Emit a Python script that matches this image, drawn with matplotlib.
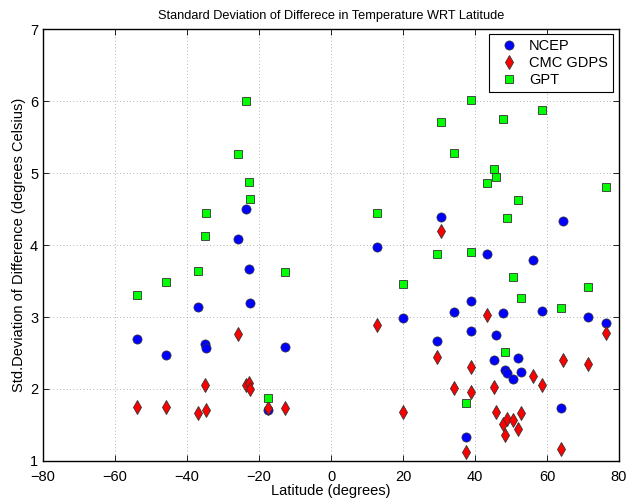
import matplotlib
matplotlib.use("Agg")
import matplotlib.pyplot as plt

plt.rcParams['font.family'] = ['Liberation Sans', 'DejaVu Sans']

# NCEP
ncep_lat = [-53.8, -45.8, -36.9, -35.0, -34.7, -25.9, -23.7, -22.7, -22.6, -17.6, -12.9,
            12.9, 19.9, 29.5, 30.6, 34.1, 37.5, 39.0, 39.0, 43.3, 45.3, 45.8, 47.9, 48.2,
            49.0, 50.6, 51.9, 52.8, 56.2, 58.6, 64.0, 64.5, 71.4, 76.3]
ncep_std = [2.69, 2.47, 3.14, 2.63, 2.57, 4.08, 4.50, 3.66, 3.19, 1.71, 2.58,
            3.97, 2.99, 2.67, 4.39, 3.07, 1.34, 3.22, 2.81, 3.88, 2.40, 2.75, 3.05, 2.26,
            2.22, 2.14, 2.43, 2.24, 3.79, 3.09, 1.73, 4.33, 3.00, 2.91]

# CMC GDPS
cmc_lat = [-53.8, -45.8, -36.9, -35.0, -34.7, -25.9, -23.7, -22.7, -22.6, -17.6, -12.9,
           12.9, 19.9, 29.5, 30.6, 34.1, 37.5, 39.0, 39.0, 43.2, 45.3, 45.8, 47.9, 48.2,
           49.0, 50.6, 51.9, 52.8, 56.2, 58.6, 64.0, 64.5, 71.4, 76.3]
cmc_std = [1.75, 1.75, 1.67, 2.06, 1.71, 2.77, 2.06, 2.08, 2.00, 1.73, 1.74,
           2.89, 1.68, 2.45, 4.19, 2.01, 1.12, 2.31, 1.96, 3.03, 2.03, 1.68, 1.51, 1.36,
           1.58, 1.57, 1.44, 1.66, 2.18, 2.05, 1.16, 2.40, 2.35, 2.78]

# GPT
gpt_lat = [-53.8, -45.8, -36.9, -34.8, -34.9, -25.9, -23.7, -22.7, -22.6, -17.6, -12.9,
           12.9, 19.9, 29.5, 30.6, 34.1, 37.5, 39.0, 39.0, 43.3, 45.3, 45.8, 47.9, 48.2,
           49.0, 50.6, 51.9, 52.8, 58.6, 64.0, 71.4, 76.3]
gpt_std = [3.31, 3.49, 3.64, 4.44, 4.13, 5.27, 6.00, 4.88, 4.64, 1.88, 3.63,
           4.45, 3.46, 3.88, 5.71, 5.28, 1.80, 6.01, 3.90, 4.86, 5.05, 4.95, 5.75, 2.52,
           4.37, 3.56, 4.63, 3.26, 5.87, 3.13, 3.41, 4.80]

x_ticks = [-80, -60, -40, -20, 0, 20, 40, 60, 80]
y_ticks = [1, 2, 3, 4, 5, 6, 7]

fig = plt.figure(figsize=(6.28, 4.99), dpi=100)
ax = fig.add_axes([43/628, 38/499, 576/628, 432/499])

ax.plot(ncep_lat, ncep_std, linestyle='none', marker='o', markersize=6.6,
        markerfacecolor='#0000ff', markeredgecolor='#333333', markeredgewidth=0.5,
        label='NCEP', zorder=3)
ax.plot(cmc_lat, cmc_std, linestyle='none', marker='d', markersize=7.6,
        markerfacecolor='#ff0000', markeredgecolor='#333333', markeredgewidth=0.6,
        label='CMC GDPS', zorder=3)
ax.plot(gpt_lat, gpt_std, linestyle='none', marker='s', markersize=5.6,
        markerfacecolor='#00ff00', markeredgecolor='#333333', markeredgewidth=0.6,
        label='GPT', zorder=3)

ax.set_xlim(-80, 80)
ax.set_ylim(1, 7)
ax.set_xticks(x_ticks)
ax.set_yticks(y_ticks)
ax.tick_params(direction='in', length=4, width=0.6, top=True, right=True,
               labelsize=10.5)
ax.tick_params(axis='x', pad=6.5)
ax.tick_params(axis='y', pad=3.5)
ax.grid(True, linestyle=(0, (1, 3)), color='#999999', linewidth=0.6)
ax.set_axisbelow(True)
for s in ax.spines.values():
    s.set_linewidth(1.0)

ax.set_xlabel('Latitude (degrees)', fontsize=10.5, labelpad=0)
ax.set_ylabel('Std.Deviation of Difference (degrees Celsius)', fontsize=10.5, labelpad=3)
ax.set_title('Standard Deviation of Differece in Temperature WRT Latitude',
             fontsize=9.2, pad=7)

leg = ax.legend(loc='upper right', bbox_to_anchor=(1 - 6/576, 1 - 5/432),
                borderaxespad=0, fancybox=False, framealpha=1, edgecolor='black',
                fontsize=10.5, handlelength=2.0, handletextpad=0.4,
                borderpad=0.35, labelspacing=0.2)
leg.get_frame().set_linewidth(0.8)

fig.savefig('out.png', dpi=100)
